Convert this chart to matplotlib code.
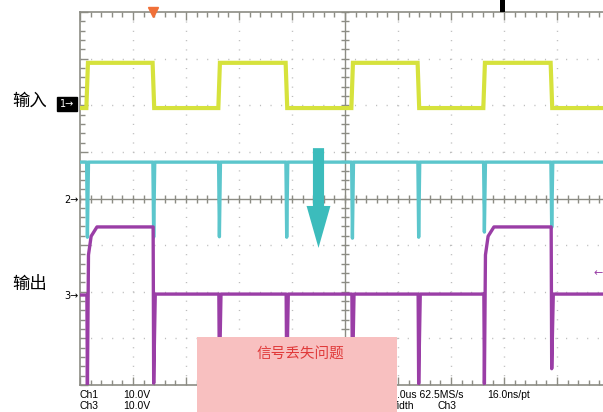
import numpy as np
import matplotlib.pyplot as plt
from matplotlib.patches import Rectangle, FancyArrow

W, H = 603, 412

# edge times in scope divisions (screen is 10 div wide, 8 div tall)
edge_t = [0.13, 1.38, 2.62, 3.89, 5.13, 6.38, 7.62, 8.89]

# Ch1 (yellow, input) level between edges
ch1_lvl = [1.94, 2.91, 1.94, 2.91, 1.94, 2.91, 1.94, 2.91, 1.94]

# Ch2 (cyan) baseline and spike bottoms
ch2_base = 0.78
ch2_spike = [-0.83, -0.83, -0.82, -0.83, -0.85, -0.83, -0.72, -0.62]

# Ch3 (purple, output) level between edges and spike bottoms
ch3_lvl = [-2.07, -0.61, -2.05, -2.05, -2.05, -2.05, -2.05, -0.61, -2.05]
ch3_spike = [-4.0, -3.96, -3.9, -3.95, -3.95, -3.97, -3.97, -3.65]

YEL = '#d6e23c'
CYA = '#5cc6cc'
PUR = '#9a3ea6'
GRAY = '#8c8c84'
DOT = '#bcbcbc'


def px(x, y):
    return x / W, 1 - y / H


# build traces
x1, y1 = [0], [ch1_lvl[0]]
for i, t in enumerate(edge_t):
    x1 += [t - 0.01, t + 0.02]
    y1 += [ch1_lvl[i], ch1_lvl[i + 1]]
x1.append(10); y1.append(ch1_lvl[-1])

x2, y2 = [0], [ch2_base]
for t, s in zip(edge_t, ch2_spike):
    x2 += [t - 0.005, t + 0.01, t + 0.03]
    y2 += [ch2_base, s, ch2_base]
x2.append(10); y2.append(ch2_base)

x3, y3 = [0], [ch3_lvl[0]]
for i, t in enumerate(edge_t):
    a, b = ch3_lvl[i], ch3_lvl[i + 1]
    x3 += [t, t + 0.01]
    y3 += [a, ch3_spike[i]]
    if b > a + 0.5:
        x3 += [t + 0.03, t + 0.08, t + 0.19]
        y3 += [b - 0.6, b - 0.2, b]
    else:
        x3 += [t + 0.04]
        y3 += [b]
x3.append(10); y3.append(ch3_lvl[-1])

fig = plt.figure(figsize=(W / 100, H / 100), dpi=100)
ax = fig.add_axes([80 / W, (H - 385) / H, 530 / W, 373 / H])
ax.set_xlim(0, 10)
ax.set_ylim(-4, 4)

# graticule
for k in range(1, 10):
    if k != 5:
        ax.axvline(k, color=DOT, lw=1.0, ls=(0, (0.8, 5.9)), zorder=1)
for k in range(-3, 4):
    if k != 0:
        ax.axhline(k, color=DOT, lw=1.0, ls=(0, (0.8, 6.8)), zorder=1)
ax.axhline(0, color=GRAY, lw=1.0, zorder=1)
ax.axvline(5, color=GRAY, lw=1.0, zorder=1)
tx = np.arange(0, 10.01, 0.2)
ty = np.arange(-4, 4.01, 0.2)
ax.plot(tx, np.zeros_like(tx), ls='none', marker='|', ms=6, mew=1.0, color=GRAY, zorder=1)
ax.plot(np.full_like(ty, 5), ty, ls='none', marker='_', ms=6, mew=1.0, color=GRAY, zorder=1)

ax.set_xticks(range(0, 11))
ax.set_yticks(range(-4, 5))
ax.set_xticks(tx, minor=True)
ax.set_yticks(ty, minor=True)
ax.tick_params(which='both', direction='in', top=True, bottom=True, left=True, right=False,
               labelbottom=False, labelleft=False, color=GRAY, width=1.0)
ax.tick_params(which='major', length=6)
ax.tick_params(which='minor', length=3.5)
for s in ['left', 'top', 'bottom']:
    ax.spines[s].set_color(GRAY)
    ax.spines[s].set_linewidth(1.2)
ax.spines['right'].set_visible(False)

# traces
ax.plot(x1, y1, color=YEL, lw=3.0, zorder=3, solid_joinstyle='miter')
ax.plot(x2, y2, color=CYA, lw=2.4, zorder=3)
ax.plot(x3, y3, color=PUR, lw=2.4, zorder=4)

# trigger marker and ch3 side marker
ax.plot([1.38], [4.0], marker='v', ms=7, color='#f07038', clip_on=False, zorder=6)
ax.text(9.77, -1.6, '←', color=PUR, fontsize=8, ha='center', va='center', zorder=6)

# big teal arrow
ax.add_patch(FancyArrow(4.5, 1.08, 0, -2.14, width=0.21, head_width=0.45,
                        head_length=0.9, length_includes_head=True,
                        color='#3cbcbc', lw=0, zorder=7))

cjk = ['Noto Sans CJK SC', 'DejaVu Sans']
fig.text(*px(12, 101), '输入', fontsize=12.5, family=cjk, va='center', ha='left')
fig.text(*px(12, 284), '输出', fontsize=12.5, family=cjk, va='center', ha='left')

fig.text(*px(67, 104), '1→', fontsize=7, color='white', ha='center', va='center',
         bbox=dict(boxstyle='square,pad=0.25', fc='black', ec='black'))
fig.text(*px(71, 200), '2→', fontsize=7, ha='center', va='center')
fig.text(*px(71, 296), '3→', fontsize=7, ha='center', va='center')

# readout text along the bottom
fs = 7.5
fam = 'Liberation Sans'
fig.text(*px(80, 395), 'Ch1', fontsize=fs, family=fam, va='center')
fig.text(*px(123, 395), '10.0V', fontsize=fs, family=fam, va='center')
fig.text(*px(80, 406), 'Ch3', fontsize=fs, family=fam, va='center')
fig.text(*px(123, 406), '10.0V', fontsize=fs, family=fam, va='center')
fig.text(*px(397, 395), '.0us 62.5MS/s', fontsize=fs, family=fam, va='center')
fig.text(*px(487, 395), '16.0ns/pt', fontsize=fs, family=fam, va='center')
fig.text(*px(388, 406), 'Width', fontsize=fs, family=fam, va='center')
fig.text(*px(437, 406), 'Ch3', fontsize=fs, family=fam, va='center')

# pink note box over the bottom
fig.patches.append(Rectangle(px(197, 412), 200 / W, 75 / H, transform=fig.transFigure,
                             fc='#f8c0c0', ec='none', zorder=10))
fig.text(*px(300, 354), '信号丢失问题', fontsize=10.5, family=cjk, color='#e03a3a',
         ha='center', va='center', zorder=11)

# cut-off glyph at top
fig.patches.append(Rectangle(px(500, 12), 5 / W, 12 / H, transform=fig.transFigure,
                             fc='black', ec='none', zorder=10))

fig.savefig('out.png', dpi=100)
